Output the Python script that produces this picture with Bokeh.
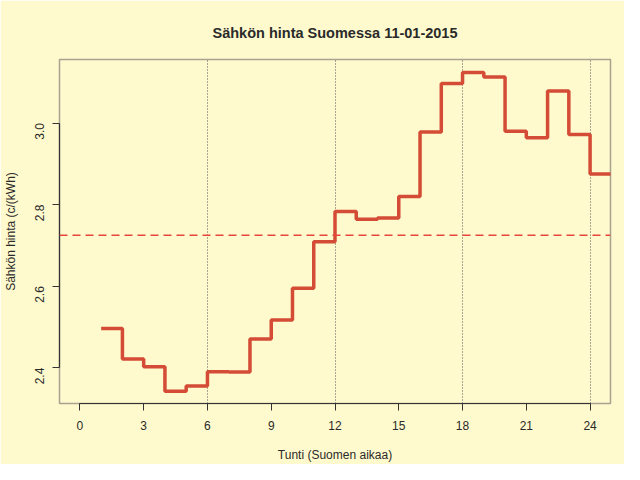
import math
from bokeh.plotting import figure
from bokeh.models import Range1d, FixedTicker, Span, Title, PrintfTickFormatter
from bokeh.embed import file_html
from bokeh.resources import INLINE

# Data
hours = list(range(1, 26))
prices = [2.496, 2.421, 2.402, 2.342, 2.355, 2.390, 2.389, 2.470, 2.517, 2.595,
          2.709, 2.783, 2.764, 2.767, 2.820, 2.978, 3.097, 3.124, 3.113, 2.980,
          2.964, 3.079, 2.972, 2.875, 2.875]
x_ticks = [0, 3, 6, 9, 12, 15, 18, 21, 24]
y_ticks = [2.4, 2.6, 2.8, 3.0]
grid_hours = [6, 12, 18, 24]
mean_price = sum(prices[:24]) / 24.0

BG = "#FFFACD"
FONT = "Liberation Sans"
TXT = "#2a2a2a"

p = figure(width=624, height=464, output_backend="svg", toolbar_location=None,
           x_range=Range1d(-0.96, 24.96), y_range=Range1d(2.312, 3.156),
           min_border_left=59, min_border_right=14, min_border_top=59,
           min_border_bottom=56)
p.background_fill_color = BG
p.border_fill_color = BG
p.outline_line_color = "#a8a290"
p.outline_line_width = 1.5

p.title = Title(text="Sähkön hinta Suomessa 11-01-2015", align="center",
                text_font=FONT, text_font_size="14.5px", text_font_style="bold",
                text_color=TXT, standoff=38)

# axes
for ax in (p.xaxis[0], p.yaxis[0]):
    ax.axis_line_color = "#333333"
    ax.axis_line_width = 1.2
    ax.major_tick_line_color = "#333333"
    ax.major_tick_out = 7
    ax.major_tick_in = 0
    ax.minor_tick_line_color = None
    ax.major_label_text_font = FONT
    ax.major_label_text_font_size = "12px"
    ax.major_label_text_color = TXT
    ax.axis_label_text_font = FONT
    ax.axis_label_text_font_size = "12px"
    ax.axis_label_text_font_style = "normal"
    ax.axis_label_text_color = TXT

p.xaxis.ticker = FixedTicker(ticks=x_ticks)
p.xaxis.bounds = (0, 24)
p.xaxis.major_label_standoff = 10
p.xaxis.axis_label = "Tunti (Suomen aikaa)"
p.xaxis.axis_label_standoff = 15

p.yaxis.ticker = FixedTicker(ticks=y_ticks)
p.yaxis.formatter = PrintfTickFormatter(format="%.1f")
p.yaxis.bounds = (2.4, 3.0)
p.yaxis.major_label_orientation = math.pi / 2
p.yaxis.major_label_standoff = 13
p.yaxis.axis_label = "Sähkön hinta (c/(kWh)"
p.yaxis.axis_label_standoff = 10

# grid
p.xgrid.ticker = FixedTicker(ticks=grid_hours)
p.xgrid.grid_line_color = "#555555"
p.xgrid.grid_line_dash = "1 2"
p.xgrid.grid_line_width = 1
p.ygrid.grid_line_color = None

# mean line
p.add_layout(Span(location=mean_price, dimension="width", line_color="#e8463c",
                  line_width=1.5, line_dash="8 5"))

# step line
p.step(x=hours, y=prices, mode="after", line_color="#d44b36", line_width=3.5)

open("out.html", "w").write(file_html(p, INLINE))
